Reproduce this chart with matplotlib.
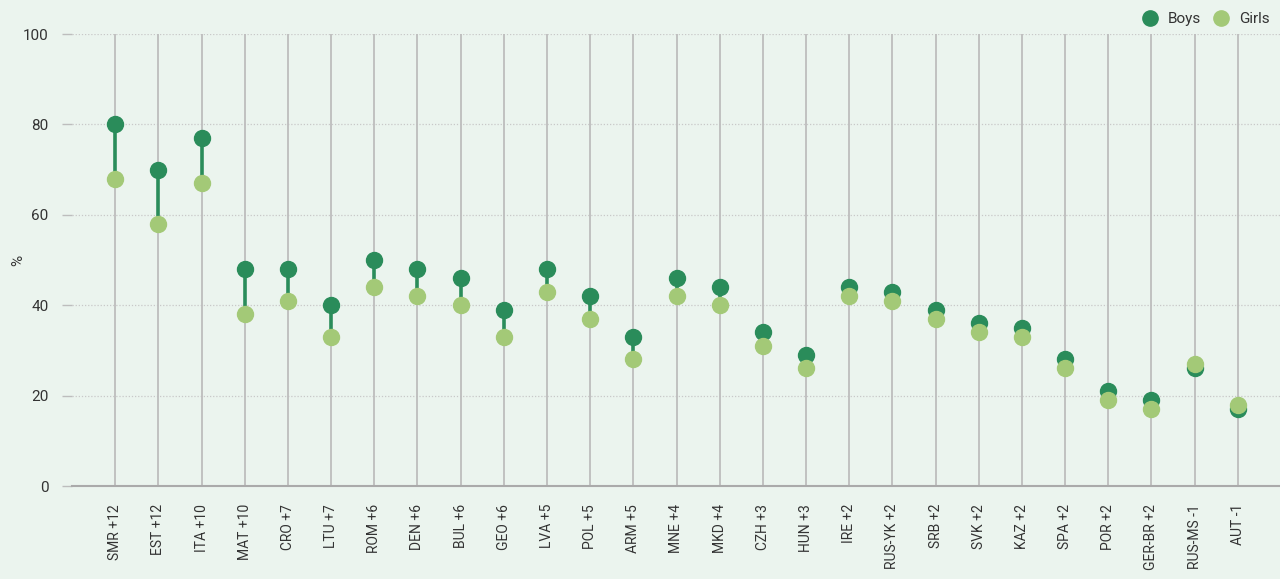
import numpy as np
import matplotlib
matplotlib.use("Agg")
from matplotlib import pyplot as plt
from matplotlib.lines import Line2D

countries = ["SMR +12", "EST +12", "ITA +10", "MAT +10", "CRO +7", "LTU +7", "ROM +6",
             "DEN +6", "BUL +6", "GEO +6", "LVA +5", "POL +5", "ARM +5", "MNE +4",
             "MKD +4", "CZH +3", "HUN +3", "IRE +2", "RUS-YK +2", "SRB +2", "SVK +2",
             "KAZ +2", "SPA +2", "POR +2", "GER-BR +2", "RUS-MS -1", "AUT -1"]
boys = [80, 70, 77, 48, 48, 40, 50, 48, 46, 39, 48, 42, 33, 46, 44, 34, 29, 44, 43, 39,
        36, 35, 28, 21, 19, 26, 17]
girls = [68, 58, 67, 38, 41, 33, 44, 42, 40, 33, 43, 37, 28, 42, 40, 31, 26, 42, 41, 37,
         34, 33, 26, 19, 17, 27, 18]
yticks = [0, 20, 40, 60, 80, 100]

BG = "#ebf4ee"
BOYS_C = "#2a8c5a"
GIRLS_C = "#a3c977"
TEXT_C = "#333333"

plt.rcParams["font.family"] = ["Roboto", "DejaVu Sans"]

fig = plt.figure(figsize=(12.8, 5.79), dpi=100, facecolor=BG)
ax = fig.add_axes([72 / 1280, 93 / 579, 1209 / 1280, 452 / 579])
ax.set_facecolor(BG)

x = np.arange(len(countries))

# full-height category lines
for xi in x:
    ax.axvline(xi, color="#bdbdbd", lw=1.3, zorder=1)
# dotted horizontal grid
for yv in yticks[1:]:
    ax.axhline(yv, color="#c8c8c8", lw=0.9, ls=(0, (1, 1.5)), zorder=0.5)

# connector between boys and girls
ax.vlines(x, np.minimum(boys, girls), np.maximum(boys, girls), color=BOYS_C, lw=2.6, zorder=2)
ax.plot(x, boys, "o", ms=11.5, color=BOYS_C, zorder=3, label="Boys")
ax.plot(x, girls, "o", ms=11.5, color=GIRLS_C, zorder=4, label="Girls")

ax.set_xlim(-1, len(countries))
ax.set_ylim(0, 100)
ax.set_yticks(yticks)
ax.set_xticks(x)
ax.set_xticklabels(countries, rotation=90, fontsize=10, color=TEXT_C, va="top")
ax.tick_params(axis="x", length=0, pad=13)
ax.tick_params(axis="y", length=7, width=1, color="#bdbdbd", pad=10, labelsize=11,
               labelcolor=TEXT_C)

for s in ["top", "right", "left"]:
    ax.spines[s].set_visible(False)
ax.spines["bottom"].set_color("#aaaaaa")
ax.spines["bottom"].set_linewidth(1.5)

ax.set_ylabel("%", fontsize=11, color=TEXT_C)
ax.yaxis.set_label_coords(-0.039, 0.5)

handles = [Line2D([], [], marker="o", ls="", ms=11, color=BOYS_C),
           Line2D([], [], marker="o", ls="", ms=11, color=GIRLS_C)]
fig.legend(handles, ["Boys", "Girls"], loc="upper right", bbox_to_anchor=(1.0, 0.998),
           ncol=2, frameon=False, fontsize=11, handletextpad=0.15, columnspacing=0.3,
           borderaxespad=0.3, labelcolor=TEXT_C)

fig.savefig("out.png", dpi=100, facecolor=BG)
